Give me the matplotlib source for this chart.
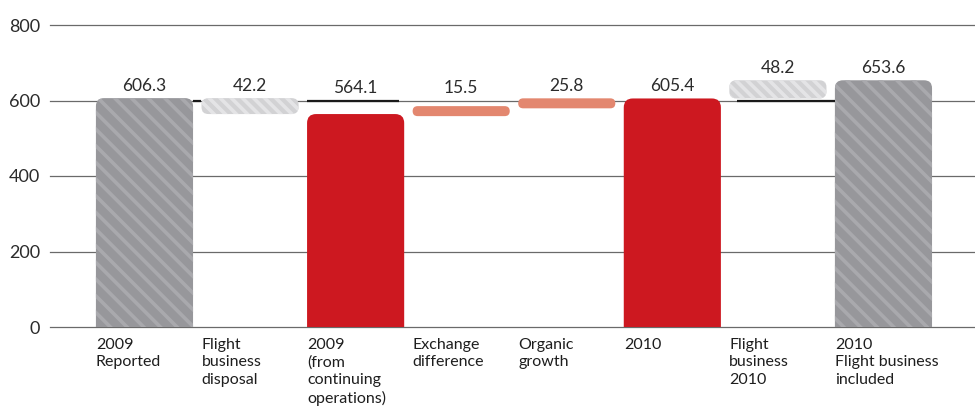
import matplotlib
matplotlib.use("Agg")
import matplotlib.pyplot as plt
from matplotlib.patches import FancyBboxPatch

# bridge from 2009 reported to 2010 incl. flight business
categories = [
    "2009\nReported",
    "Flight\nbusiness\ndisposal",
    "2009\n(from\ncontinuing\noperations)",
    "Exchange\ndifference",
    "Organic\ngrowth",
    "2010",
    "Flight\nbusiness\n2010",
    "2010\nFlight business\nincluded",
]
values = [606.3, 42.2, 564.1, 15.5, 25.8, 605.4, 48.2, 653.6]
kinds = ["total", "down", "total", "up", "up", "total", "up", "total"]
yticks = [0, 200, 400, 600, 800]

GRAY = "#97979b"
GRAY_STRIPE = "#a9a9ad"
LIGHT = "#d2d2d4"
LIGHT_STRIPE = "#e4e4e6"
RED = "#cd1820"
SALMON = "#e3876f"

plt.rcParams["hatch.linewidth"] = 2.6

W, H = 975, 413
fig = plt.figure(figsize=(W / 100, H / 100), dpi=100)
ax = fig.add_axes([50 / W, 86 / H, 925 / W, 302 / H])
xlim = (-0.895, 7.867)
ylim = (0, 800)
ax.set_xlim(*xlim)
ax.set_ylim(*ylim)

ppx = 925 / (xlim[1] - xlim[0])   # pixels per x unit
ppy = 302 / (ylim[1] - ylim[0])   # pixels per y unit
width = 0.92

for t in yticks:
    ax.axhline(t, color="#6a6a6a", lw=0.9, zorder=0, clip_on=False)


def rounded_bar(x, bottom, top, color, hatch=None, stripe="white", radius=8):
    r_px = min(radius, abs(top - bottom) * ppy / 2)
    # edge is not stroked (lw=0) but its colour is used for the hatch
    p = FancyBboxPatch(
        (x - width / 2, bottom), width, top - bottom,
        boxstyle=f"round,pad=0,rounding_size={r_px / ppx}",
        mutation_aspect=ppx / ppy,
        facecolor=color, edgecolor=stripe, linewidth=0, hatch=hatch, zorder=2,
    )
    ax.add_patch(p)


# running level of the bridge
level = 0
tops = []
for i, (v, k) in enumerate(zip(values, kinds)):
    if k == "total":
        lo, hi = -30, v
        level = v
        if i in (2, 5):
            rounded_bar(i, lo, hi, RED, radius=9)
        else:
            rounded_bar(i, lo, hi, GRAY, "\\\\", GRAY_STRIPE, 8)
        tops.append(v)
    elif k == "down":
        lo, hi = level - v, level
        level = lo
        rounded_bar(i, lo, hi, LIGHT, "\\\\\\", LIGHT_STRIPE, 7)
        tops.append(hi)
    else:
        lo, hi = level, level + v
        level = hi
        if i == 6:
            rounded_bar(i, lo, hi, LIGHT, "\\\\\\", LIGHT_STRIPE, 7)
        else:
            pad = max(10 / ppy - (hi - lo), 0) / 2
            rounded_bar(i, lo - pad, hi + pad, SALMON, radius=6)
        tops.append(hi)

# dark connector segments on the 600 line
seg_lo = [0 + width / 2, 2 - width / 2, 6 - width / 2 + 0.07]
seg_hi = [1 - width / 2, 2 + width / 2 - 0.05, 7 - width / 2]
ax.hlines([600] * len(seg_lo), seg_lo, seg_hi, color="#1a1a1a", lw=1.6, zorder=3)

for i, (v, top) in enumerate(zip(values, tops)):
    ax.annotate(f"{v:.1f}", (i, max(top, 600)), xytext=(0, 3),
                textcoords="offset points", ha="center", va="bottom",
                fontsize=12.5, color="#2b2b2b", family=["Lato", "DejaVu Sans"])

for i, lab in enumerate(categories):
    ax.annotate(lab, (i - width / 2, 0), xytext=(0, -8),
                textcoords="offset points", ha="left", va="top",
                fontsize=11.5, color="#1e1e1e", linespacing=1.3,
                family=["Lato", "DejaVu Sans"],
                annotation_clip=False)

ax.set_xticks([])
ax.set_yticks(yticks)
ax.set_yticklabels([str(t) for t in yticks], fontsize=13, color="#2b2b2b",
                   family=["Lato", "DejaVu Sans"])
ax.tick_params(axis="y", length=0, pad=7)
for s in ax.spines.values():
    s.set_visible(False)

fig.savefig("out.png", dpi=100)
